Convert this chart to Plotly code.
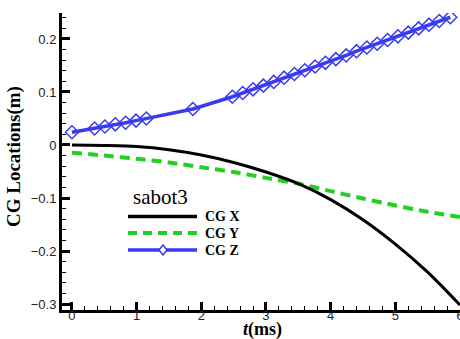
import plotly.graph_objects as go

# ---- data ----
t_x = [0, 0.5, 1, 1.5, 2, 2.5, 3, 3.5, 4, 4.5, 5, 5.5, 6]
cg_x = [0, -0.001, -0.003, -0.009, -0.019, -0.033, -0.051, -0.073, -0.103, -0.141, -0.187, -0.240, -0.302]

t_y = [0, 0.5, 1, 1.5, 2, 2.5, 3, 3.5, 4, 4.5, 5, 5.5, 6]
cg_y = [-0.0145, -0.020, -0.026, -0.033, -0.042, -0.051, -0.062, -0.073, -0.087, -0.101, -0.114, -0.126, -0.136]

t_z = [0, 0.35, 0.51, 0.67, 0.83, 0.99, 1.15, 1.87,
       2.48, 2.64, 2.80, 2.96, 3.12, 3.28, 3.44, 3.60, 3.76, 3.92, 4.08,
       4.24, 4.40, 4.56, 4.72, 4.88, 5.04, 5.20, 5.36, 5.52, 5.68, 5.85]
cg_z = [0.024, 0.031, 0.035, 0.039, 0.042, 0.046, 0.050, 0.068,
        0.091, 0.098, 0.105, 0.112, 0.119, 0.127, 0.134, 0.141, 0.148, 0.155, 0.162,
        0.169, 0.177, 0.184, 0.191, 0.198, 0.205, 0.212, 0.220, 0.227, 0.234, 0.241]

legend_title = "sabot3"
series_names = ["CG X", "CG Y", "CG Z"]
x_title = "<b><i>t</i>(ms)</b>"
y_title = "<b>CG Locations(m)</b>"

BLACK = "#000000"
GREEN = "#22d022"
BLUE = "#3a3af0"

W, H = 460, 339
ML, MR, MT, MB = 62, 0, 13, 29
PW, PH = W - ML - MR, H - MT - MB

def px(x):
    return (x - ML) / PW

def py(y):
    return (H - MB - y) / PH

fig = go.Figure()
fig.add_trace(go.Scatter(x=t_y, y=cg_y, mode="lines",
                         line=dict(color=GREEN, width=4, dash="10px,6px", shape="spline", smoothing=0.8),
                         showlegend=False))
fig.add_trace(go.Scatter(x=t_x, y=cg_x, mode="lines",
                         line=dict(color=BLACK, width=3, shape="spline", smoothing=0.8), showlegend=False))
fig.add_trace(go.Scatter(x=t_z, y=cg_z, mode="lines+markers", line=dict(color=BLUE, width=3.5),
                         marker=dict(symbol="diamond-open", size=10, color=BLUE, line=dict(width=1.5, color=BLUE)),
                         showlegend=False))

# manual legend
shapes = []
annotations = []
annotations.append(dict(x=px(131), y=py(197), xref="paper", yref="paper", text=legend_title, showarrow=False,
                        xanchor="left", yanchor="middle",
                        font=dict(family="Liberation Serif", size=21, color="black")))
rows = [(216.5, BLACK, False), (233, GREEN, True), (250, BLUE, False)]
for (yy, col, dashed), name in zip(rows, series_names):
    shapes.append(dict(type="line", xref="paper", yref="paper", x0=px(128), x1=px(197), y0=py(yy), y1=py(yy),
                       line=dict(color=col, width=4 if dashed else 3.5, dash="9px,6px" if dashed else "solid")))
    annotations.append(dict(x=px(203), y=py(yy), xref="paper", yref="paper", text="<b>" + name + "</b>",
                            showarrow=False, xanchor="left", yanchor="middle",
                            font=dict(family="Liberation Serif", size=14, color="black")))
# diamond for CG Z legend entry
cx, cy, rx, ry = 163, 250, 4, 5
shapes.append(dict(type="path", xref="paper", yref="paper",
                   path=f"M {px(cx)} {py(cy-ry)} L {px(cx+rx)} {py(cy)} L {px(cx)} {py(cy+ry)} L {px(cx-rx)} {py(cy)} Z",
                   line=dict(color=BLUE, width=1.5), fillcolor="white"))

# axis titles as annotations for exact placement
annotations.append(dict(x=px(262), y=py(329.5), xref="paper", yref="paper", text=x_title, showarrow=False,
                        xanchor="center", yanchor="middle",
                        font=dict(family="Liberation Serif", size=18, color="black")))
annotations.append(dict(x=px(14), y=py(157), xref="paper", yref="paper", text=y_title, showarrow=False,
                        xanchor="center", yanchor="middle", textangle=-90,
                        font=dict(family="Liberation Serif", size=19, color="black")))

fig.update_layout(
    width=W, height=H,
    margin=dict(l=ML, r=MR, t=MT, b=MB, pad=0, autoexpand=False),
    paper_bgcolor="white", plot_bgcolor="white",
    shapes=shapes, annotations=annotations,
    xaxis=dict(range=[-0.154, 6.0], automargin=False, showgrid=False, zeroline=False, showline=True,
               linecolor="black", linewidth=3, ticklabeloverflow="allow", ticklabelstandoff=-9,
               ticks="inside", ticklen=8, tickwidth=2.5, tickcolor="black", dtick=1, tick0=0,
               tickfont=dict(family="Liberation Sans", size=13, color="#222"),
               minor=dict(ticks="inside", ticklen=4, tickwidth=1, tickcolor="black", dtick=0.2, tick0=0)),
    yaxis=dict(range=[-0.3113, 0.249], automargin=False, showgrid=False, zeroline=False, showline=True,
               linecolor="black", linewidth=3,
               ticks="inside", ticklen=8, tickwidth=2.5, tickcolor="black", dtick=0.1, tick0=0,
               tickfont=dict(family="Liberation Sans", size=13, color="#222"),
               minor=dict(ticks="inside", ticklen=4, tickwidth=1, tickcolor="black", dtick=0.02, tick0=0)),
)

fig.write_html("out.html")
